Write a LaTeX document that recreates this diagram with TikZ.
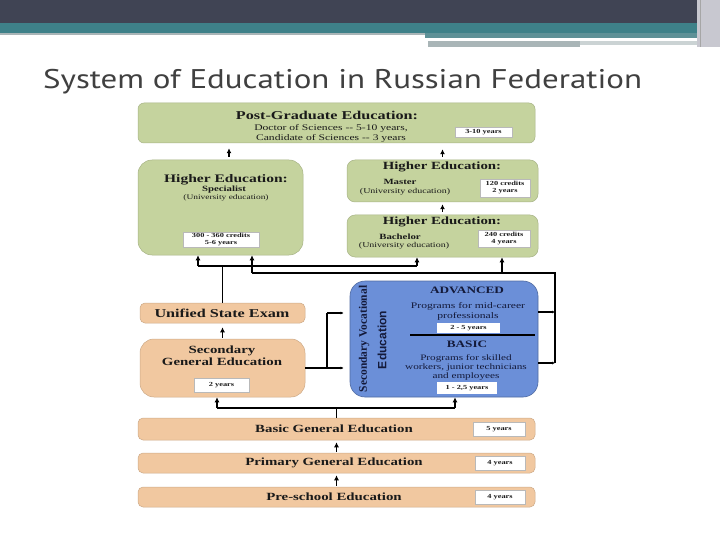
\documentclass[tikz,border=0pt]{standalone}
\usepackage{fontspec}
\setmainfont{Liberation Serif}
\newfontfamily\boxfont[FakeStretch=1.35]{Liberation Serif}
\newfontfamily\titlefont[FakeStretch=1.22]{PT Sans}
\newfontfamily\vocserif{Liberation Serif}
\newfontfamily\vocsans{Liberation Sans}
\usepackage{tikz}
\usetikzlibrary{positioning, arrows.meta}

\definecolor{headdark}{HTML}{404454}
\definecolor{headteal}{HTML}{3E8189}
\definecolor{headgrey}{HTML}{A9B5B7}
\definecolor{edgegrey}{HTML}{C8C8D0}
\definecolor{edugreen}{HTML}{C5D39E}
\definecolor{edutan}{HTML}{F1C8A0}
\definecolor{edublue}{HTML}{6B8FD8}
\definecolor{titlegray}{HTML}{404040}
\definecolor{inkblack}{HTML}{1A1A1A}
\definecolor{inknavy}{HTML}{141A3A}

\tikzset{
    greenbox/.style={fill=edugreen, draw=edugreen!85!black, line width=0.5pt, inner sep=0pt},
    tanbox/.style={fill=edutan, draw=edutan!85!black, line width=0.5pt, inner sep=0pt},
    yearbox/.style={fill=white, draw=gray!55, line width=0.4pt, inner sep=0pt, align=center,
        text=inkblack, font=\fontsize{6.2}{7}\boxfont\bfseries},
    txt/.style={inner sep=0pt, align=center, text=inkblack},
    headbig/.style={txt, font=\fontsize{11.5}{12.5}\boxfont\bfseries},
    headsmall/.style={txt, font=\fontsize{8}{9}\boxfont\bfseries},
    plain/.style={txt, font=\fontsize{7}{8}\boxfont},
    link/.style={draw=black, line width=1.3pt},
    uplink/.style={link, -{Latex[length=5pt,width=5pt]}},
}

\begin{document}
\begin{tikzpicture}[x=1pt, y=-1pt]
    \useasboundingbox (0,0) rectangle (720,540);
    \fill[white] (0,0) rectangle (720,540);

    % slide header
    \fill[headdark] (0,0) rectangle (720,23);
    \fill[headteal] (0,23) rectangle (720,33);
    \fill[headgrey] (0,33) rectangle (425,35);
    \fill[headteal!70!headgrey] (425,33) rectangle (700,38);
    \fill[white] (428,38) rectangle (667,41);
    \fill[headgrey] (428,41) rectangle (580,47);
    \fill[headgrey!60] (580,41) rectangle (700,45);
    \fill[edgegrey] (697,0) rectangle (720,47);
    \draw[gray!70, line width=0.8pt] (700,0) -- (700,47);

    % title
    \node[anchor=base west, inner sep=0pt, text=titlegray,
        font=\fontsize{27}{30}\titlefont] (title) at (43,89)
        {System of Education in Russian Federation};

    % green boxes: post-graduate and higher education
    \node[greenbox, rounded corners=6pt, minimum width=397pt, minimum height=40pt] (pg) at (336.5,123) {};
    \node[greenbox, rounded corners=14pt, minimum width=165pt, minimum height=95pt] (spec) at (220.5,207.5) {};
    \node[greenbox, rounded corners=8pt, minimum width=191pt, minimum height=42pt] (master) at (442.5,181) {};
    \node[greenbox, rounded corners=8pt, minimum width=191pt, minimum height=42pt] (bach) at (442.5,236) {};

    \node[headbig, font=\fontsize{12}{13}\boxfont\bfseries] (pghead) at (327,115) {Post-Graduate Education:};
    \node[plain, font=\fontsize{8.6}{10}\boxfont] (pgtext) at (331,133)
        {Doctor of Sciences -- 5-10 years,\\Candidate of Sciences -- 3 years};
    \node[yearbox, minimum width=57pt, minimum height=10pt] (pgyears) at (483.5,132) {3-10 years};

    \node[headbig] (spechead) at (226,180) {Higher Education:};
    \node[headsmall] (specname) at (224,190) {Specialist};
    \node[plain] (specuni) at (226,198) {(University education)};
    \node[yearbox, minimum width=76pt, minimum height=15pt] (specyears) at (221,239.5)
        {300 - 360 credits\\5-6 years};

    \node[headbig, font=\fontsize{11}{12}\boxfont\bfseries] (masthead) at (442,167) {Higher Education:};
    \node[headsmall] (mastname) at (400,182) {Master};
    \node[plain, font=\fontsize{7.4}{8}\boxfont] (mastuni) at (405,192) {(University education)};
    \node[yearbox, minimum width=50pt, minimum height=18pt] (mastyears) at (505,188)
        {120 credits\\2 years};

    \node[headbig, font=\fontsize{11}{12}\boxfont\bfseries] (bachhead) at (442,222) {Higher Education:};
    \node[headsmall] (bachname) at (400,237) {Bachelor};
    \node[plain, font=\fontsize{7.4}{8}\boxfont] (bachuni) at (404,246) {(University education)};
    \node[yearbox, minimum width=52pt, minimum height=17pt] (bachyears) at (504,238.5)
        {240 credits\\4 years};

    % tan boxes: exam and general education
    \node[tanbox, rounded corners=5pt, minimum width=165pt, minimum height=20pt] (use) at (222.5,313) {};
    \node[headbig, font=\fontsize{12}{13}\boxfont\bfseries] (usetext) at (222,313) {Unified State Exam};

    \node[tanbox, rounded corners=14pt, minimum width=165pt, minimum height=58pt] (sge) at (222.5,368) {};
    \node[headbig, font=\fontsize{11}{12}\boxfont\bfseries] (sgetext) at (222,356)
        {Secondary\\General Education};
    \node[yearbox, minimum width=55pt, minimum height=14pt] (sgeyears) at (221.5,385) {2 years};

    \node[tanbox, rounded corners=5pt, minimum width=397pt, minimum height=22pt] (bge) at (336.5,429) {};
    \node[tanbox, rounded corners=5pt, minimum width=397pt, minimum height=20pt] (pge) at (336.5,463) {};
    \node[tanbox, rounded corners=5pt, minimum width=397pt, minimum height=20pt] (pse) at (336.5,497) {};
    \node[headbig, font=\fontsize{11}{12}\boxfont\bfseries] (bgetext) at (334,429) {Basic General Education};
    \node[headbig, font=\fontsize{11}{12}\boxfont\bfseries] (pgetext) at (334,463) {Primary General Education};
    \node[headbig, font=\fontsize{11}{12}\boxfont\bfseries] (psetext) at (334,497) {Pre-school Education};
    \node[yearbox, minimum width=52pt, minimum height=14pt] (bgeyears) at (499,429) {5 years};
    \node[yearbox, minimum width=50pt, minimum height=14pt] (pgeyears) at (500,463) {4 years};
    \node[yearbox, minimum width=50pt, minimum height=14pt] (pseyears) at (500,497) {4 years};

    % blue box: secondary vocational education
    \node[fill=edublue, draw=edublue!75!black, line width=0.6pt, rounded corners=15pt,
        minimum width=188pt, minimum height=116pt, inner sep=0pt] (voc) at (444,339) {};
    \node[txt, text=inknavy, rotate=90, font=\fontsize{11.5}{12}\vocserif\bfseries] (vocname) at (364,339)
        {Secondary Vocational};
    \node[txt, text=inknavy, rotate=90, font=\fontsize{12}{12}\vocsans\bfseries] (vocedu) at (382,340)
        {Education};
    \node[txt, text=inknavy, font=\fontsize{9.8}{11}\boxfont\bfseries] (advhead) at (467,290) {ADVANCED};
    \node[txt, text=inknavy, font=\fontsize{8.6}{9.4}\boxfont] (advtext) at (468,311.5)
        {Programs for mid-career\\professionals};
    \node[yearbox, draw=none, minimum width=63pt, minimum height=10pt] (advyears) at (468.5,328) {2 - 5 years};
    \draw[black, line width=1.6pt] (410,335) -- (535,335);
    \node[txt, text=inknavy, font=\fontsize{9.8}{11}\boxfont\bfseries] (bashead) at (467,344) {BASIC};
    \node[txt, text=inknavy, font=\fontsize{8.3}{9.4}\boxfont] (bastext) at (466,367.5)
        {Programs for skilled\\workers, junior technicians\\and employees};
    \node[yearbox, draw=none, minimum width=60pt, minimum height=12pt] (basyears) at (467,388) {1 - 2,5 years};

    % helper rows and rails for the connectors
    \coordinate (rowA) at (0,266);
    \coordinate (rowB) at (0,273);
    \coordinate (rowC) at (0,408);
    \coordinate (railL) at (327,0);
    \coordinate (railR) at (555,0);

    % short arrows between stacked boxes
    \draw[uplink, shorten <=3pt, shorten >=5pt] ([xshift=8.5pt]spec.north) -- ([xshift=8.5pt]spec.north |- pg.south);
    \draw[uplink, shorten <=3pt, shorten >=6pt] (master.north) -- (master.north |- pg.south);
    \draw[uplink, shorten <=3pt, shorten >=2pt] (bach.north) -- (master.south);
    \draw[uplink, shorten <=1pt, shorten >=4pt] (sge.north) -- (use.south);
    \draw[uplink, shorten <=1pt, shorten >=2pt] (pge.north) -- (bge.south);
    \draw[uplink, shorten <=1pt, shorten >=2pt] (pse.north) -- (pge.south);

    % exam to higher education
    \draw[link] (use.north) -- (use.north |- rowA);
    \draw[link] ([xshift=-22.5pt]spec.south |- rowA) -- ([xshift=-25.5pt]bach.south |- rowA);
    \draw[uplink] ([xshift=-22.5pt]spec.south |- rowA) -- ([xshift=-22.5pt]spec.south);
    \draw[uplink] ([xshift=-25.5pt]bach.south |- rowA) -- ([xshift=-25.5pt]bach.south);

    % vocational to higher education
    \draw[link, -{Latex[length=3pt,width=3pt]}] ([yshift=27pt]voc.east) -- ([yshift=27pt]voc.east -| railR);
    \draw[link, -{Latex[length=3pt,width=3pt]}] ([yshift=-24pt]voc.east) -- ([yshift=-24pt]voc.east -| railR);
    \draw[link] ([yshift=-24pt]voc.east -| railR) -- (railR |- rowB) -- ([xshift=31.5pt]spec.south |- rowB);
    \draw[uplink] ([xshift=31.5pt]spec.south |- rowB) -- ([xshift=31.5pt]spec.south);
    \draw[uplink] ([xshift=59.5pt]bach.south |- rowB) -- ([xshift=59.5pt]bach.south);

    % secondary general to vocational
    \draw[link] (sge.east) -- (sge.east -| railL) -- ([yshift=26pt]voc.west -| railL);
    \draw[link, -{Latex[length=3pt,width=3pt]}, shorten >=6pt] ([yshift=26pt]voc.west -| railL) -- ([yshift=26pt]voc.west);
    \draw[link, -{Latex[length=3pt,width=3pt]}, shorten >=6pt] (sge.east -| railL) -- (sge.east -| voc.west);

    % basic general to secondary general and vocational
    \draw[link] (bge.north) -- (bge.north |- rowC);
    \draw[link] ([xshift=-5.5pt]sge.south |- rowC) -- ([xshift=11pt]voc.south |- rowC);
    \draw[uplink] ([xshift=-5.5pt]sge.south |- rowC) -- ([xshift=-5.5pt]sge.south);
    \draw[uplink] ([xshift=11pt]voc.south |- rowC) -- ([xshift=11pt]voc.south);

\end{tikzpicture}
\end{document}
